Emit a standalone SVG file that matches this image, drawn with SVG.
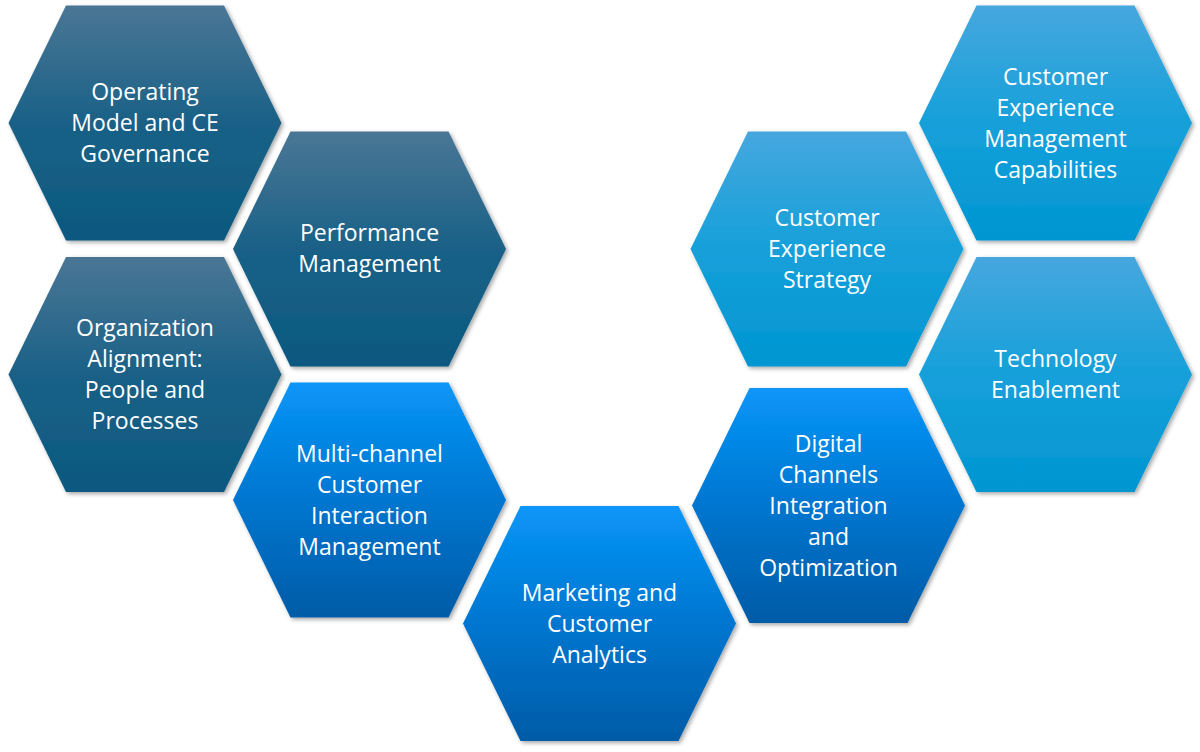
<svg xmlns="http://www.w3.org/2000/svg" xmlns:xlink="http://www.w3.org/1999/xlink" width="1200" height="752" viewBox="0 0 1200 752">
<defs>
<linearGradient id="gDark" x1="0" y1="0" x2="0" y2="1">
<stop offset="0" stop-color="#4a7695"/>
<stop offset="0.5" stop-color="#1a6187"/>
<stop offset="1" stop-color="#0b5880"/>
</linearGradient>
<linearGradient id="gBright" x1="0" y1="0" x2="0" y2="1">
<stop offset="0" stop-color="#0896f8"/>
<stop offset="0.5" stop-color="#0276d0"/>
<stop offset="1" stop-color="#005ba6"/>
</linearGradient>
<linearGradient id="gLight" x1="0" y1="0" x2="0" y2="1">
<stop offset="0" stop-color="#46a7de"/>
<stop offset="0.5" stop-color="#16a0da"/>
<stop offset="1" stop-color="#0096d2"/>
</linearGradient>
<filter id="sh" x="-10%" y="-10%" width="125%" height="125%">
<feDropShadow dx="2" dy="2" stdDeviation="2" flood-color="#000" flood-opacity="0.35"/>
</filter>
<polygon id="hex" points="-136.5,0 -79,-117.5 79,-117.5 136.5,0 79,117.5 -79,117.5"/>
</defs>
<style>
.lbl{font-family:"Open Sans","Noto Sans","Liberation Sans",sans-serif;font-size:23px;fill:#ffffff;text-anchor:middle}
.dark{fill:url(#gDark)}
.bright{fill:url(#gBright)}
.light{fill:url(#gLight)}
.hx{filter:url(#sh)}
</style>
<rect width="1200" height="752" fill="#ffffff"/>
<g id="connectors"/>
<g id="n1">
<use xlink:href="#hex" href="#hex" class="hx dark" transform="translate(145,123)"/>
<text class="lbl" x="145" y="100">Operating</text>
<text class="lbl" x="145" y="131">Model and CE</text>
<text class="lbl" x="145" y="162">Governance</text>
</g>
<g id="n2">
<use xlink:href="#hex" href="#hex" class="hx dark" transform="translate(369.5,249)"/>
<text class="lbl" x="369.5" y="241">Performance</text>
<text class="lbl" x="369.5" y="272">Management</text>
</g>
<g id="n3">
<use xlink:href="#hex" href="#hex" class="hx dark" transform="translate(145,374.5)"/>
<text class="lbl" x="145" y="336">Organization</text>
<text class="lbl" x="145" y="367">Alignment:</text>
<text class="lbl" x="145" y="398">People and</text>
<text class="lbl" x="145" y="429">Processes</text>
</g>
<g id="n4">
<use xlink:href="#hex" href="#hex" class="hx bright" transform="translate(369.5,500)"/>
<text class="lbl" x="369.5" y="461.5">Multi-channel</text>
<text class="lbl" x="369.5" y="492.5">Customer</text>
<text class="lbl" x="369.5" y="523.5">Interaction</text>
<text class="lbl" x="369.5" y="554.5">Management</text>
</g>
<g id="n5">
<use xlink:href="#hex" href="#hex" class="hx bright" transform="translate(599.5,623.5)"/>
<text class="lbl" x="599.5" y="600.5">Marketing and</text>
<text class="lbl" x="599.5" y="631.5">Customer</text>
<text class="lbl" x="599.5" y="662.5">Analytics</text>
</g>
<g id="n6">
<use xlink:href="#hex" href="#hex" class="hx light" transform="translate(827,249)"/>
<text class="lbl" x="827" y="226">Customer</text>
<text class="lbl" x="827" y="257">Experience</text>
<text class="lbl" x="827" y="288">Strategy</text>
</g>
<g id="n7">
<use xlink:href="#hex" href="#hex" class="hx light" transform="translate(1055.5,123)"/>
<text class="lbl" x="1055.5" y="85">Customer</text>
<text class="lbl" x="1055.5" y="116">Experience</text>
<text class="lbl" x="1055.5" y="147">Management</text>
<text class="lbl" x="1055.5" y="178">Capabilities</text>
</g>
<g id="n8">
<use xlink:href="#hex" href="#hex" class="hx bright" transform="translate(828.5,505.5)"/>
<text class="lbl" x="828.5" y="452">Digital</text>
<text class="lbl" x="828.5" y="483">Channels</text>
<text class="lbl" x="828.5" y="514">Integration</text>
<text class="lbl" x="828.5" y="545">and</text>
<text class="lbl" x="828.5" y="576">Optimization</text>
</g>
<g id="n9">
<use xlink:href="#hex" href="#hex" class="hx light" transform="translate(1055.5,374.5)"/>
<text class="lbl" x="1055.5" y="367">Technology</text>
<text class="lbl" x="1055.5" y="398">Enablement</text>
</g>
</svg>
